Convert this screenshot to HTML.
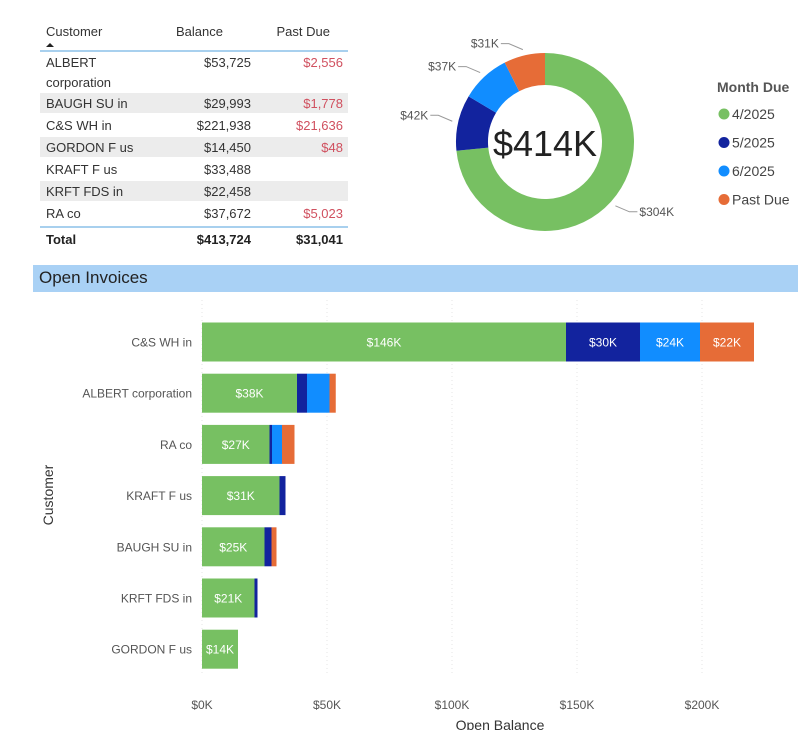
<!DOCTYPE html>
<html><head><meta charset="utf-8"><style>
body{margin:0;width:798px;height:729px;background:#fff;font-family:"Liberation Sans",sans-serif;overflow:hidden;position:relative}
.t{position:absolute;font-size:13px;color:#333}
</style></head><body>
<div style="position:absolute;left:40px;top:20px;width:310px">
<svg width="320" height="235" style="position:absolute;left:0;top:0" font-family="Liberation Sans, sans-serif" font-size="13" fill="#333">
<text x="6" y="16">Customer</text>
<path d="M6 27 l4 -4 l4 4z" fill="#222"/>
<text x="183" y="16" text-anchor="end">Balance</text>
<text x="290" y="16" text-anchor="end">Past Due</text>
<line x1="0" y1="31" x2="308" y2="31" stroke="#8cc0e8" stroke-width="1.5"/>
<rect x="0" y="73" width="308" height="20" fill="#ececec"/>
<rect x="0" y="117" width="308" height="20" fill="#ececec"/>
<rect x="0" y="161" width="308" height="20" fill="#ececec"/>
<g id="rows"></g>
<line x1="0" y1="207" x2="308" y2="207" stroke="#8cc0e8" stroke-width="1.5"/>
<text x="6" y="224" font-weight="bold" fill="#222">Total</text>
<text x="211" y="224" text-anchor="end" font-weight="bold" fill="#222">$413,724</text>
<text x="303" y="224" text-anchor="end" font-weight="bold" fill="#222">$31,041</text>
</svg></div>

<svg id="donut" width="420" height="250" style="position:absolute;left:380px;top:0" font-family="Liberation Sans, sans-serif"></svg>

<div style="position:absolute;left:33px;top:265px;width:765px;height:27px;background:#a9d1f5"></div>
<div class="t" style="left:39px;top:268px;font-size:17px;color:#222">Open Invoices</div>

<svg id="bars" width="798" height="440" style="position:absolute;left:0;top:290px" font-family="Liberation Sans, sans-serif"></svg>

<script>
const tableCustomers=["ALBERT","BAUGH SU in","C&S WH in","GORDON F us","KRAFT F us","KRFT FDS in","RA co"];
const tableBalance=["$53,725","$29,993","$221,938","$14,450","$33,488","$22,458","$37,672"];
const tablePast=["$2,556","$1,778","$21,636","$48","","","$5,023"];
const NS="http://www.w3.org/2000/svg";
function mk(p,tag,attrs,txt){const e=document.createElementNS(NS,tag);for(const k in attrs)e.setAttribute(k,attrs[k]);if(txt!==undefined)e.textContent=txt;p.appendChild(e);return e;}
const rows=document.getElementById('rows');
const rowY=[47,88,110,132,154,176,198];
tableCustomers.forEach((c,i)=>{
 const a=mk(rows,'text',{x:6,y:rowY[i]},c);
 
 
 mk(rows,'text',{x:211,y:rowY[i],'text-anchor':'end'},tableBalance[i]);
 mk(rows,'text',{x:303,y:rowY[i],'text-anchor':'end',fill:'#d0505f'},tablePast[i]);
});
mk(rows,'text',{x:6,y:67},'corporation');

// donut
const donutLabels=["4/2025","5/2025","6/2025","Past Due"];
const donutValues=[304,42,37,31];
const colors=["#77c062","#12239e","#118dff","#e66c37"];
const d=document.getElementById('donut');
const cx=165,cy=142,R=89,r=57;
const tot=donutValues.reduce((a,b)=>a+b,0);
let ang=0;
const pt=(a,rad)=>[cx+rad*Math.sin(a),cy-rad*Math.cos(a)];
donutValues.forEach((v,i)=>{
 const a0=ang,a1=ang+v/tot*2*Math.PI;ang=a1;
 const lg=(a1-a0)>Math.PI?1:0;
 const [x0,y0]=pt(a0,R),[x1,y1]=pt(a1,R),[x2,y2]=pt(a1,r),[x3,y3]=pt(a0,r);
 const p=mk(d,'path',{d:`M${x0} ${y0}A${R} ${R} 0 ${lg} 1 ${x1} ${y1}L${x2} ${y2}A${r} ${r} 0 ${lg} 0 ${x3} ${y3}Z`,fill:colors[i]});
 
 
 const mid=(a0+a1)/2;const [lx,ly]=pt(mid,R+6);
 const right=Math.sin(mid)>0;
 const ex=right?lx+14:lx-14, ey=ly+(Math.cos(mid)>0?-6:6);
 mk(d,'polyline',{points:`${lx},${ly} ${ex},${ey} ${ex+(right?8:-8)},${ey}`,fill:'none',stroke:'#999'});
 const t=mk(d,'text',{x:ex+(right?10:-10),y:ey+4,'font-size':12,fill:'#555','text-anchor':right?'start':'end'},'$'+v+'K');
 
 
});
const ct=mk(d,'text',{x:cx,y:cy+14,'font-size':36,'text-anchor':'middle',fill:'#222'},'$'+Math.round(tot)+'K');


mk(d,'text',{x:337,y:92,'font-size':14,'font-weight':'bold',fill:'#555'},'Month Due');
donutLabels.forEach((l,i)=>{
 const y=114+i*28.5;
 mk(d,'circle',{cx:344,cy:y,r:5.5,fill:colors[i]});
 const t=mk(d,'text',{x:352,y:y+5,'font-size':14,fill:'#444'},l);
 
 
});

// bars
const customers=["C&S WH in","ALBERT corporation","RA co","KRAFT F us","BAUGH SU in","KRFT FDS in","GORDON F us"];
const s4=[145.6,38,27,31,25,21,14.4];
const s5=[29.6,4,1,2.4,2.8,1.2,0];
const s6=[24,9,4,0,0,0,0];
const sPast=[21.6,2.5,5,0,2,0,0];
const ticks=[0,50,100,150,200];
const b=document.getElementById('bars');
const x0=202,kx=2.5;const X=v=>x0+v*kx;
const Y=i=>52+i*51.2;
ticks.forEach(t=>{
 mk(b,'line',{x1:X(t),y1:10,x2:X(t),y2:385,stroke:'#e6e6e6','stroke-dasharray':'1 3'});
 const tx=mk(b,'text',{x:X(t),y:419,'font-size':12,fill:'#555','text-anchor':'middle'},'$'+t+'K');
 
 
});
const series=[s4,s5,s6,sPast];
customers.forEach((c,i)=>{
 const y=Y(i);
 let acc=0;
 series.forEach((s,k)=>{
  const v=s[i];if(!v)return;
  const rc=mk(b,'rect',{x:X(acc),y:y-19.5,width:v*kx,height:39,fill:colors[k]});
  
  
  if(v>=12){mk(b,'text',{x:X(acc+v/2),y:y+4.5,'font-size':12,fill:'#fff','text-anchor':'middle'},'$'+Math.round(v)+'K');}
  acc+=v;
 });
 const l=mk(b,'text',{x:192,y:y+4.5,'font-size':12,fill:'#555','text-anchor':'end'},c);
 
 
});
const yt=mk(b,'text',{x:0,y:0,'font-size':14,fill:'#333','text-anchor':'middle',transform:'translate(53,205) rotate(-90)'},'Customer');


const xt=mk(b,'text',{x:500,y:440,'font-size':14,fill:'#333','text-anchor':'middle'},'Open Balance');


</script>
</body></html>
